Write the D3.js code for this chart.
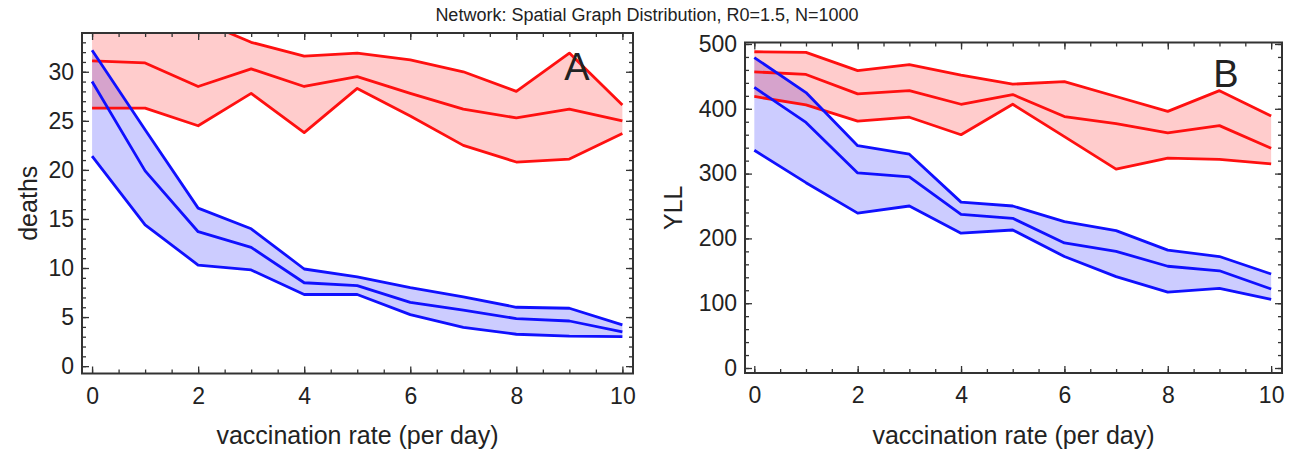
<!DOCTYPE html>
<html>
<head>
<meta charset="utf-8">
<script src="https://cdn.jsdelivr.net/npm/d3@7"></script>
<style>
  body { margin: 0; background: #fff; }
  text { font-family: "Liberation Sans", Arial, sans-serif; fill: #222; }
</style>
</head>
<body>
<div id="chart"></div>
<script>
// vaccination rate (per day)
var rates = [0, 1, 2, 3, 4, 5, 6, 7, 8, 9, 10]

// panel A: deaths
var deathsRedUpper = [36.5, 36.5, 35.3, 33.0, 31.6, 31.9, 31.2, 30.0, 28.0, 31.9, 26.6]
var deathsRedMid   = [31.1, 30.9, 28.5, 30.3, 28.5, 29.5, 27.8, 26.2, 25.3, 26.2, 25.0]
var deathsRedLower = [26.3, 26.3, 24.5, 27.8, 23.8, 28.3, 25.5, 22.5, 20.8, 21.1, 23.7]
var deathsBlueUpper = [32.2, 24.1, 16.1, 14.0, 9.9, 9.1, 8.0, 7.05, 6.0, 5.9, 4.2]
var deathsBlueMid   = [29.0, 19.9, 13.7, 12.1, 8.5, 8.2, 6.5, 5.7, 4.85, 4.6, 3.5]
var deathsBlueLower = [21.4, 14.4, 10.3, 9.8, 7.3, 7.3, 5.25, 3.95, 3.25, 3.05, 3.0]

// panel B: YLL
var yllRedUpper = [488, 487, 459, 468, 452, 438, 442, 419, 396, 428, 389]
var yllRedMid   = [457, 453, 423, 428, 407, 422, 388, 377, 363, 374, 339]
var yllRedLower = [419, 406, 381, 387, 360, 407, 357, 307, 324, 322, 315]
var yllBlueUpper = [479, 425, 343, 330, 256, 250, 226, 212, 182, 172, 145]
var yllBlueMid   = [433, 379, 301, 295, 237, 231, 193, 180, 157, 150, 122]
var yllBlueLower = [336, 286, 239, 250, 208, 213, 172, 141, 117, 123, 106]

// tick values
var xMajor = [0, 2, 4, 6, 8, 10]
var xMinor = d3.range(0, 10.01, 0.5)
var deathsMajor = [0, 5, 10, 15, 20, 25, 30]
var deathsMinor = d3.range(0, 34, 1)
var yllMajor = [0, 100, 200, 300, 400, 500]
var yllMinor = d3.range(0, 501, 20)

var title = "Network: Spatial Graph Distribution, R0=1.5, N=1000"
var xTitle = "vaccination rate (per day)"

var width = 1294, height = 451
var red = "#ff1010", blue = "#1010ff"

var svg = d3.select("#chart").append("svg")
    .attr("width", width)
    .attr("height", height)

svg.append("text")
    .attr("x", 647)
    .attr("y", 21)
    .attr("text-anchor", "middle")
    .attr("font-size", 18)
    .text(title)

var panels = [
    {id: "A", yTitle: "deaths", left: 82, right: 633, top: 33, bottom: 373.5,
     xDom: [-0.19, 10.2], yDom: [-0.75, 33.95], yMajor: deathsMajor, yMinor: deathsMinor,
     red: [deathsRedUpper, deathsRedMid, deathsRedLower],
     blue: [deathsBlueUpper, deathsBlueMid, deathsBlueLower],
     letterX: 577, letterY: 80, yTitleX: 28},
    {id: "B", yTitle: "YLL", left: 745, right: 1282, top: 42.5, bottom: 373,
     xDom: [-0.18, 10.21], yDom: [-7.7, 502.3], yMajor: yllMajor, yMinor: yllMinor,
     red: [yllRedUpper, yllRedMid, yllRedLower],
     blue: [yllBlueUpper, yllBlueMid, yllBlueLower],
     letterX: 1226, letterY: 87, yTitleX: 673}
]

panels.forEach(function(p) {
    var x = d3.scaleLinear().domain(p.xDom).range([p.left, p.right])
    var y = d3.scaleLinear().domain(p.yDom).range([p.bottom, p.top])

    var g = svg.append("g")

    g.append("clipPath")
        .attr("id", "clip" + p.id)
        .append("rect")
        .attr("x", p.left)
        .attr("y", p.top)
        .attr("width", p.right - p.left)
        .attr("height", p.bottom - p.top)

    var plot = g.append("g").attr("clip-path", "url(#clip" + p.id + ")")

    var band = d3.area()
        .x(function(d, i) { return x(rates[i]) })
        .y0(function(d) { return y(d[1]) })
        .y1(function(d) { return y(d[0]) })
    var line = d3.line()
        .x(function(d, i) { return x(rates[i]) })
        .y(function(d) { return y(d) })

    // fills first (blue then red), then lines
    var sets = [{s: p.blue, c: blue, f: "#0000ff"}, {s: p.red, c: red, f: "#ff0000"}]
    sets.forEach(function(set) {
        plot.append("path")
            .datum(d3.zip(set.s[0], set.s[2]))
            .attr("d", band)
            .attr("fill", set.f)
            .attr("fill-opacity", 0.2)
    })
    sets.slice().reverse().forEach(function(set) {
        set.s.forEach(function(vals) {
            plot.append("path")
                .datum(vals)
                .attr("d", line)
                .attr("fill", "none")
                .attr("stroke", set.c)
                .attr("stroke-width", 2.8)
                .attr("stroke-linejoin", "round")
        })
    })

    // ticks on all sides, pointing inward
    var tickColor = "#333"
    function axisGroup(axis, tx, ty) {
        var a = g.append("g")
            .attr("transform", "translate(" + tx + "," + ty + ")")
            .call(axis)
        a.select(".domain").remove()
        a.selectAll("line").attr("stroke", tickColor).attr("stroke-width", 1.3)
        a.selectAll("text")
            .attr("font-size", 23)
            .attr("fill", "#222")
            .style("font-family", "'Liberation Sans', Arial, sans-serif")
        return a
    }
    axisGroup(d3.axisBottom(x).tickValues(xMinor).tickSize(-4).tickFormat(""), 0, p.bottom)
    axisGroup(d3.axisBottom(x).tickValues(xMajor).tickSize(-7).tickPadding(14).tickFormat(d3.format("d")), 0, p.bottom)
    axisGroup(d3.axisTop(x).tickValues(xMinor).tickSize(-4).tickFormat(""), 0, p.top)
    axisGroup(d3.axisTop(x).tickValues(xMajor).tickSize(-7).tickFormat(""), 0, p.top)
    axisGroup(d3.axisLeft(y).tickValues(p.yMinor).tickSize(-4).tickFormat(""), p.left, 0)
    axisGroup(d3.axisLeft(y).tickValues(p.yMajor).tickSize(-7).tickPadding(8).tickFormat(d3.format("d")), p.left, 0)
    axisGroup(d3.axisRight(y).tickValues(p.yMinor).tickSize(-4).tickFormat(""), p.right, 0)
    axisGroup(d3.axisRight(y).tickValues(p.yMajor).tickSize(-7).tickFormat(""), p.right, 0)

    // frame
    g.append("rect")
        .attr("x", p.left)
        .attr("y", p.top)
        .attr("width", p.right - p.left)
        .attr("height", p.bottom - p.top)
        .attr("fill", "none")
        .attr("stroke", "#333")
        .attr("stroke-width", 2)

    g.append("text")
        .attr("x", p.letterX)
        .attr("y", p.letterY)
        .attr("text-anchor", "middle")
        .attr("font-size", 38)
        .attr("fill", "#111")
        .text(p.id)

    g.append("text")
        .attr("x", (p.left + p.right) / 2)
        .attr("y", 444)
        .attr("text-anchor", "middle")
        .attr("font-size", 25)
        .text(xTitle)

    g.append("text")
        .attr("transform", "translate(" + p.yTitleX + "," + ((p.top + p.bottom) / 2) + ") rotate(-90)")
        .attr("text-anchor", "middle")
        .attr("dy", "0.35em")
        .attr("font-size", 25)
        .text(p.yTitle)
})
</script>
</body>
</html>
